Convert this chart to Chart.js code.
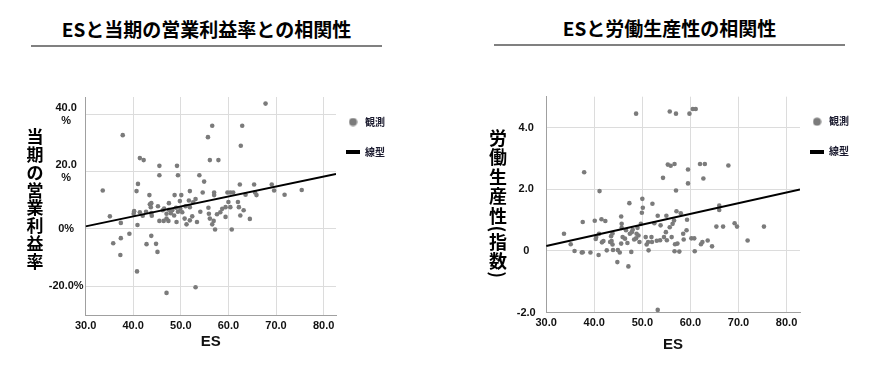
<!DOCTYPE html>
<html>
<head>
<meta charset="utf-8">
<script src="https://cdn.jsdelivr.net/npm/chart.js@4.4.0/dist/chart.umd.min.js"></script>
<style>
body { margin: 0; width: 874px; height: 372px; background: #fff; position: relative; overflow: hidden; font-family: "Noto Sans CJK JP", sans-serif; }
.head { position: absolute; height: 29px; line-height: 26px; font-size: 19px; font-weight: bold; text-align: center; border-bottom: 2px solid #808080; color: #000; }
#h1 { left: 31px; top: 16px; width: 351px; }
#h2 { left: 494px; top: 15px; width: 351px; }
.box { position: absolute; top: 60px; height: 300px; }
#b1 { left: 0; width: 420px; }
#b2 { left: 440px; width: 434px; }
</style>
</head>
<body>
<div class="head" id="h1">ESと当期の営業利益率との相関性</div>
<div class="head" id="h2">ESと労働生産性の相関性</div>
<div class="box" id="b1"><canvas id="marginChart"></canvas></div>
<div class="box" id="b2"><canvas id="prodChart"></canvas></div>
<script>
// ES と 当期の営業利益率 (%)
var marginES = [67.8, 56.6, 62.9, 55.7, 37.8, 62.6, 41.4, 42.2, 56.1, 57.9, 45.5, 49.2, 45.5, 49.4, 53.9, 54.9,
  41.0, 40.7, 33.6, 62.4, 65.4, 69.1, 43.4, 48.7, 50.1, 51.9, 54.6, 57.0, 57.0, 59.8, 60.4, 61.0, 65.6, 65.9,
  69.6, 71.8, 75.4, 63.6, 51.7, 53.1, 49.8, 47.5, 45.2, 43.5, 43.7, 43.8, 41.4, 40.2, 40.1, 40.9, 37.4, 35.1,
  42.0, 42.7, 43.9, 43.8, 46.2, 46.5, 47.0, 47.5, 47.9, 48.2, 48.6, 49.0, 49.4, 49.9, 50.3, 51.0, 51.9, 52.6,
  45.5, 46.4, 47.4, 47.0, 49.1, 50.8, 51.2, 51.9, 52.4, 53.4, 54.1, 55.8, 55.9, 56.1, 56.6, 56.9, 57.2, 57.6,
  58.3, 58.7, 59.4, 59.4, 60.0, 60.4, 62.0, 62.2, 62.5, 63.2, 64.5, 60.7, 39.2, 37.4, 35.8, 37.3, 40.8, 43.8,
  42.8, 44.8, 45.1, 47.0, 53.1];
var marginValues = [43.7, 36.0, 36.0, 32.0, 32.7, 29.0, 24.7, 24.0, 24.0, 24.0, 22.0, 22.0, 18.7, 18.7, 18.7, 16.5,
  15.7, 13.2, 13.4, 15.5, 15.5, 15.5, 11.8, 11.8, 11.8, 13.2, 12.7, 12.7, 11.8, 12.7, 12.7, 12.7, 12.7, 11.8,
  13.4, 11.9, 13.6, 11.9, 9.9, 10.4, 9.7, 9.0, 7.9, 8.6, 7.6, 9.0, 5.8, 6.2, 5.3, 1.4, 2.1, 4.4,
  4.6, 6.0, 4.6, 5.5, 6.5, 7.1, 5.3, 6.7, 5.5, 6.5, 4.7, 7.4, 6.0, 7.0, 5.8, 7.9, 7.6, 9.3,
  2.8, 2.8, 2.8, 3.6, 2.4, 3.6, 1.6, 3.0, 4.4, 2.4, 6.0, 7.4, 5.3, 3.6, 1.6, 2.8, -0.2, 5.1,
  5.8, 7.0, 7.6, 4.2, 9.4, 7.6, 9.4, 7.6, 4.7, 6.5, 3.5, -0.2, -1.7, -3.2, -5.0, -9.1, -14.8, -2.4,
  -5.3, -5.2, -8.0, -22.3, -20.3];
var marginFitES = [30, 82.6];
var marginFitValues = [0.9, 19.2];
var marginTicks = [-20, 0, 20, 40];
var marginTickLabels = [['-20.0%'], ['0%'], ['20.0', '%'], ['40.0', '%']];

// ES と 労働生産性（指数）
var prodES = [48.7, 55.7, 57.0, 59.8, 60.5, 61.1, 37.9, 55.3, 55.9, 56.7, 62.0, 63.0, 67.9, 59.5, 54.3, 62.7,
  59.5, 41.1, 57.0, 50.0, 50.1, 47.3, 52.1, 49.9, 45.6, 53.2, 55.0, 57.1, 58.0, 59.3, 66.0, 66.0,
  37.6, 40.1, 41.5, 42.3, 33.7, 35.1, 35.9, 37.4, 37.6, 39.2, 40.9, 40.3, 40.4, 41.0, 41.6, 41.9,
  42.6, 43.3, 43.5, 43.8, 43.6, 43.8, 44.9, 45.3, 45.7, 45.7, 45.9, 46.6, 46.9, 47.4, 47.7, 48.0,
  48.3, 48.7, 49.0, 49.2, 49.4, 49.7, 50.7, 50.9, 51.2, 51.3, 51.9, 52.0, 53.8, 54.5, 54.9, 55.7,
  56.1, 56.3, 56.6, 57.3, 56.8, 57.7, 56.7, 58.5, 58.6, 59.2, 60.2, 60.8, 60.9, 62.2, 62.5, 63.6,
  64.5, 65.4, 66.8, 69.2, 69.7, 71.9, 75.3, 44.8, 47.1, 53.2, 43.9, 45.6, 46.4, 48.8, 47.8, 52.5,
  53.0, 53.7, 55.1];
var prodValues = [4.45, 4.52, 4.45, 4.45, 4.6, 4.6, 2.55, 2.8, 2.76, 2.82, 2.82, 2.82, 2.77, 2.64, 2.37, 2.35,
  2.19, 1.94, 1.96, 1.69, 1.40, 1.55, 1.53, 1.24, 1.12, 1.14, 1.14, 1.29, 1.22, 1.01, 1.47, 1.33,
  0.94, 0.98, 1.03, 0.97, 0.56, 0.22, 0.0, -0.05, -0.04, -0.05, -0.13, 0.39, 0.45, 0.56, 0.28, 0.32,
  0.02, 0.29, 0.48, 0.57, 0.32, 0.21, 0.03, -0.05, 0.88, 0.75, 0.45, 0.67, 0.26, 0.56, -0.03, 0.69,
  0.37, 0.41, 0.75, 0.50, 0.29, 0.88, 0.45, 0.21, 0.29, 0.02, 0.45, 0.29, 0.83, 0.45, 0.61, 0.77,
  0.45, 0.88, 0.99, 0.24, 0.22, -0.02, -0.01, 0.56, 0.37, 0.67, 0.41, 0.41, -0.01, 0.22, 0.29, 0.34,
  0.15, 0.79, 0.79, 0.90, 0.79, 0.34, 0.79, -0.36, -0.50, -1.91, 0.03, 0.24, 0.40, 0.56, 0.61, 0.90,
  0.33, 0.35, 0.35];
var prodFitES = [30, 82.8];
var prodFitValues = [0.16, 1.99];
var prodTicks = [-2, 0, 2, 4];
var prodTickLabels = ['-2.0', '0', '2.0', '4.0'];

var esTicks = [30, 40, 50, 60, 70, 80];
var legendNames = ['観測', '線型'];

function pairs(xs, ys) {
  return xs.map(function (x, i) { return { x: x, y: ys[i] }; });
}

// 凡例マーカー
var dotMark = document.createElement('canvas');
dotMark.width = 9; dotMark.height = 9;
var dctx = dotMark.getContext('2d');
dctx.fillStyle = '#7b7b7b';
dctx.beginPath(); dctx.arc(4.5, 4.5, 4, 0, Math.PI * 2); dctx.fill();
var barMark = document.createElement('canvas');
barMark.width = 14; barMark.height = 4;
var bctx = barMark.getContext('2d');
bctx.fillStyle = '#000';
bctx.fillRect(0, 0, 14, 4);

// 縦書きの軸タイトル
var stackedTitle = {
  id: 'stackedTitle',
  afterDraw: function (chart, args, opts) {
    var ctx = chart.ctx;
    ctx.save();
    ctx.font = opts.font;
    ctx.fillStyle = '#000';
    ctx.textAlign = 'center';
    ctx.textBaseline = 'middle';
    var y = opts.top;
    opts.chars.forEach(function (ch) {
      var paren = ch === '(' || ch === ')';
      var h = paren ? opts.step * 0.35 : opts.step;
      ctx.save();
      ctx.translate(opts.x, y + h / 2);
      if (paren) ctx.rotate(Math.PI / 2);
      ctx.fillText(ch, 0, 0);
      ctx.restore();
      y += h;
    });
    ctx.restore();
  }
};

var legendShift = {
  id: 'legendShift',
  afterLayout: function (chart) {
    chart.legend.left -= 10;
    chart.legend.right -= 10;
  }
};

var tickFont = { family: 'Liberation Sans', size: 11, weight: 'bold' };

function makeChart(id, cfg) {
  return new Chart(document.getElementById(id), {
    data: {
      datasets: [{
        type: 'scatter',
        label: legendNames[0],
        data: pairs(cfg.xs, cfg.ys),
        backgroundColor: '#7b7b7b',
        borderWidth: 0,
        pointRadius: 2.3,
        pointHoverRadius: 2.3,
        order: 1
      }, {
        type: 'line',
        label: legendNames[1],
        data: pairs(cfg.fitX, cfg.fitY),
        borderColor: '#000',
        borderWidth: 2,
        pointRadius: 0,
        order: 0
      }]
    },
    options: {
      responsive: true,
      maintainAspectRatio: false,
      animation: false,
      events: [],
      layout: { padding: { top: cfg.padTop, right: cfg.padRight, left: 0, bottom: 0 } },
      plugins: {
        tooltip: { enabled: false },
        legend: {
          position: 'right',
          align: 'start',
          labels: {
            usePointStyle: true,
            pointStyleWidth: 14,
            padding: 20,
            color: '#1a1a2e',
            font: { family: 'Noto Sans CJK JP', size: 10, weight: 'bold' },
            generateLabels: function (chart) {
              var items = Chart.defaults.plugins.legend.labels.generateLabels(chart);
              items.sort(function (a, b) { return a.datasetIndex - b.datasetIndex; });
              items.forEach(function (it) {
                it.pointStyle = it.datasetIndex === 0 ? dotMark : barMark;
              });
              return items;
            }
          }
        },
        stackedTitle: cfg.vtitle
      },
      scales: {
        x: {
          type: 'linear',
          min: 30,
          max: cfg.fitX[1],
          afterBuildTicks: function (s) { s.ticks = esTicks.map(function (v) { return { value: v }; }); },
          afterFit: function (s) { s.height = cfg.xHeight; },
          grid: { color: '#dcdcdc', drawTicks: false },
          border: { color: '#a0a0a0' },
          ticks: {
            padding: 4,
            color: '#111',
            font: tickFont,
            maxRotation: 0,
            callback: function (v) { return v.toFixed(1); }
          },
          title: {
            display: true,
            text: 'ES',
            color: '#111',
            font: { family: 'Liberation Sans', size: 15, weight: 'bold' },
            padding: { top: 0, bottom: cfg.titlePad }
          }
        },
        y: {
          type: 'linear',
          min: cfg.yMin,
          max: cfg.yMax,
          afterBuildTicks: function (s) { s.ticks = cfg.ticks.map(function (v) { return { value: v }; }); },
          afterFit: function (s) { s.width = cfg.yWidth; },
          grid: { color: '#dcdcdc', drawTicks: false },
          border: { color: '#a0a0a0' },
          ticks: {
            crossAlign: 'center',
            padding: cfg.yPad,
            color: '#111',
            font: tickFont,
            callback: function (v, i) { return cfg.tickLabels[i]; }
          }
        }
      }
    },
    plugins: [stackedTitle, legendShift]
  });
}

makeChart('marginChart', {
  xs: marginES, ys: marginValues, fitX: marginFitES, fitY: marginFitValues,
  ticks: marginTicks, tickLabels: marginTickLabels,
  yMin: -30, yMax: 46, yWidth: 85.6, yPad: 2,
  padTop: 37, padRight: 15, xHeight: 45, titlePad: 9,
  vtitle: { chars: '当期の営業利益率'.split(''), x: 35, top: 68, step: 17.75, font: 'bold 17px "Noto Sans CJK JP"' }
});

makeChart('prodChart', {
  xs: prodES, ys: prodValues, fitX: prodFitES, fitY: prodFitValues,
  ticks: prodTicks, tickLabels: prodTickLabels,
  yMin: -2, yMax: 5, yWidth: 106.2, yPad: 10.5,
  padTop: 36.7, padRight: 5, xHeight: 47.3, titlePad: 6,
  vtitle: { chars: '労働生産性(指数)'.split(''), x: 58, top: 68, step: 19.5, font: 'bold 18px "Noto Sans CJK JP"' }
});
</script>
</body>
</html>
